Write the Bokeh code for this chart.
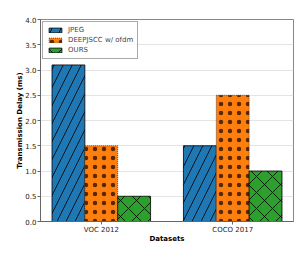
from bokeh.plotting import figure
from bokeh.models import (ColumnDataSource, Range1d, FixedTicker, PrintfTickFormatter,
                          Legend, LegendItem, BoxAnnotation)
from bokeh.transform import dodge
from bokeh.embed import file_html
from bokeh.resources import INLINE

datasets = ["VOC 2012", "COCO 2017"]
group_pos = [0, 1]
jpeg = [3.1, 1.5]
deepjscc = [1.5, 2.5]
ours = [0.5, 1.0]
series_names = ["JPEG", "DEEPJSCC w/ ofdm", "OURS"]
y_ticks = [0.0, 0.5, 1.0, 1.5, 2.0, 2.5, 3.0, 3.5, 4.0]

src = ColumnDataSource(dict(x=group_pos, jpeg=jpeg, deep=deepjscc, ours=ours))

FONT = "DejaVu Sans"
p = figure(width=294, height=245, output_backend="svg", toolbar_location=None,
           x_range=Range1d(-0.4625, 1.4625), y_range=Range1d(0, 4),
           min_border_left=40, min_border_right=1, min_border_top=19, min_border_bottom=10)

bw = 0.25
r1 = p.vbar(x=dodge("x", -0.25, range=p.x_range), top="jpeg", width=bw, source=src,
            fill_color="#1f77b4", line_color="black", line_width=0.8,
            hatch_pattern="/", hatch_color="black", hatch_scale=18, hatch_weight=0.8)
r2 = p.vbar(x=dodge("x", 0.0, range=p.x_range), top="deep", width=bw, source=src,
            fill_color="#ff7f0e", line_color="#333333", line_width=0.8, line_dash="1 1",
            hatch_pattern=".", hatch_color="#5a2800", hatch_scale=9, hatch_weight=0.8)
r3 = p.vbar(x=dodge("x", 0.25, range=p.x_range), top="ours", width=bw, source=src,
            fill_color="#2ca02c", line_color="black", line_width=0.8,
            hatch_pattern="x", hatch_color="black", hatch_scale=16, hatch_weight=0.8)

legend = Legend(items=[LegendItem(label=series_names[0], renderers=[r1]),
                       LegendItem(label=series_names[1], renderers=[r2]),
                       LegendItem(label=series_names[2], renderers=[r3])],
                location="top_left", margin=2, padding=4, spacing=2,
                label_text_font=FONT, label_text_font_size="7px",
                label_height=8, glyph_height=6, glyph_width=16, label_standoff=5,
                border_line_color="#555555", border_line_width=1,
                background_fill_alpha=0.8)
p.add_layout(legend)

p.xaxis.ticker = FixedTicker(ticks=group_pos)
p.xaxis.major_label_overrides = {g: d for g, d in zip(group_pos, datasets)}
p.yaxis.ticker = FixedTicker(ticks=y_ticks)
p.yaxis.formatter = PrintfTickFormatter(format="%.1f")

for ax in (p.xaxis, p.yaxis):
    ax.axis_line_color = "#666666"
    ax.major_tick_line_color = "#666666"
    ax.major_tick_out = 3
    ax.major_tick_in = 0
    ax.minor_tick_line_color = None
    ax.major_label_text_font = FONT
    ax.major_label_text_font_size = "7px"
    ax.major_label_text_color = "#222222"
    ax.axis_label_text_font = FONT
    ax.axis_label_text_font_size = "7px"
    ax.axis_label_text_font_style = "bold"
    ax.axis_label_text_color = "black"
    ax.major_label_standoff = 1
    ax.axis_label_standoff = -2

p.xaxis.axis_label = "Datasets"
p.yaxis.axis_label = "Transmission Delay (ms)"

p.xgrid.grid_line_color = None
p.ygrid.grid_line_color = "#e4e4e4"
p.ygrid.grid_line_width = 1
p.outline_line_color = "#888888"
p.outline_line_width = 1
p.background_fill_color = "white"
p.border_fill_color = "white"

# page-frame decorations seen in the reference screenshot
for l, r, t, b, c in [(0, 294, 0, 2, "#4d5d66"), (8, 294, 8, 10, "#8e9ca4"), (7, 9, 9, 245, "#8e9ca4")]:
    p.add_layout(BoxAnnotation(left=l, right=r, top=t, bottom=b,
                               left_units="canvas", right_units="canvas",
                               top_units="canvas", bottom_units="canvas",
                               fill_color=c, fill_alpha=1, line_color=None))

open("out.html", "w").write(file_html(p, INLINE))
